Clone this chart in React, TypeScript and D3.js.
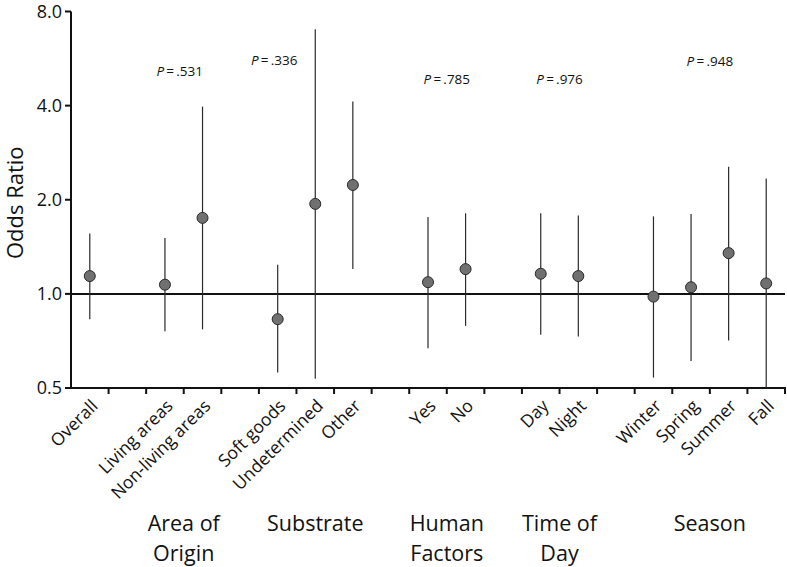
import * as d3 from "d3";

// categories in order, grouped
const groupNames = ["", "Area of\nOrigin", "Substrate", "Human\nFactors", "Time of\nDay", "Season"];
const groupMembers = [
  ["Overall"],
  ["Living areas", "Non-living areas"],
  ["Soft goods", "Undetermined", "Other"],
  ["Yes", "No"],
  ["Day", "Night"],
  ["Winter", "Spring", "Summer", "Fall"],
];
const pValues = ["", ".531", ".336", ".785", ".976", ".948"];

// odds ratio and 95% CI, same order as the categories
const oddsRatio = [1.14, 1.07, 1.75, 0.83, 1.94, 2.23, 1.09, 1.2, 1.16, 1.14, 0.98, 1.05, 1.35, 1.08];
const ciLow = [0.83, 0.76, 0.77, 0.56, 0.535, 1.2, 0.67, 0.79, 0.74, 0.73, 0.54, 0.61, 0.71, 0.5];
const ciHigh = [1.56, 1.51, 3.97, 1.24, 7.02, 4.12, 1.76, 1.81, 1.81, 1.78, 1.77, 1.8, 2.55, 2.34];

const yTicks = [0.5, 1, 2, 4, 8];

const W = 787;
const H = 567;
const FONT = "'Open Sans', 'Noto Sans', sans-serif";

// where the p-value labels sit (x nudge, baseline)
const pLabelPos = [
  { dx: 0, y: 0 },
  { dx: -4, y: 76 },
  { dx: -41, y: 65 },
  { dx: 0, y: 84 },
  { dx: 0, y: 84 },
  { dx: 0, y: 66 },
];

export default function App() {
  const categories = groupMembers.flat();

  // band domain with an empty slot before every group except the first
  const slots: string[] = [];
  groupMembers.forEach((g, i) => {
    if (i > 0) slots.push(`gap${i}`);
    g.forEach((c) => slots.push(c));
  });

  const x = d3.scaleBand<string>().domain(slots).range([71, 785]).padding(0);
  const y = d3.scaleLog().base(2).domain([0.5, 8]).range([388, 11.5]);
  const cx = (c: string) => (x(c) ?? 0) + x.bandwidth() / 2;

  const boundaries = d3.range(slots.length + 1).map((i) => 71 + i * x.bandwidth());

  return (
    <svg width={W} height={H} style={{ position: "absolute", left: 0, top: 0, background: "#fff" }} fontFamily={FONT}>
      {/* y axis */}
      <line x1={71} x2={71} y1={y(8)} y2={y(0.5) + 1} stroke="#111" strokeWidth={2} />
      {yTicks.map((t) => (
        <g key={t}>
          <line x1={65} x2={71} y1={y(t)} y2={y(t)} stroke="#111" strokeWidth={2} />
          <text x={62} y={y(t)} dy="0.36em" textAnchor="end" fontSize={18} fill="#111">
            {d3.format(".1f")(t)}
          </text>
        </g>
      ))}
      <text
        transform={`translate(23, ${(y(0.5) + y(8)) / 2 + 3}) rotate(-90)`}
        textAnchor="middle"
        fontSize={22}
        fill="#111"
      >
        Odds Ratio
      </text>

      {/* x axis */}
      <line x1={70} x2={786} y1={y(0.5)} y2={y(0.5)} stroke="#111" strokeWidth={2} />
      {boundaries.slice(1).map((b, i) => (
        <line key={i} x1={b} x2={b} y1={y(0.5)} y2={y(0.5) + 6} stroke="#111" strokeWidth={2} />
      ))}
      {categories.map((c) => (
        <text
          key={c}
          transform={`translate(${cx(c) + 9}, ${y(0.5) + 19}) rotate(-45)`}
          textAnchor="end"
          fontSize={17.5}
          fill="#111"
        >
          {c}
        </text>
      ))}

      {/* reference line at 1 */}
      <line x1={71} x2={785} y1={y(1)} y2={y(1)} stroke="#111" strokeWidth={2} />

      {/* error bars and points */}
      {categories.map((c, i) => (
        <g key={c}>
          <line x1={cx(c)} x2={cx(c)} y1={y(ciLow[i])} y2={y(ciHigh[i])} stroke="#2a2a2a" strokeWidth={1.2} />
          <circle cx={cx(c)} cy={y(oddsRatio[i])} r={5.5} fill="#707070" stroke="#2a2a2a" strokeWidth={1} />
        </g>
      ))}

      {/* group labels and p-values */}
      {groupMembers.map((g, i) => {
        if (!groupNames[i]) return null;
        const gx = d3.mean(g, cx) ?? 0;
        const lines = groupNames[i].split("\n");
        return (
          <g key={i}>
            <text textAnchor="middle" fontSize={21.5} fill="#111">
              {lines.map((l, j) => (
                <tspan key={j} x={gx} y={531 + j * 30}>
                  {l}
                </tspan>
              ))}
            </text>
            <text x={gx + pLabelPos[i].dx} y={pLabelPos[i].y} textAnchor="middle" fontSize={13.5} fill="#111">
              <tspan fontStyle="italic">P</tspan>
              {"\u2009=\u2009" + pValues[i]}
            </text>
          </g>
        );
      })}
    </svg>
  );
}
